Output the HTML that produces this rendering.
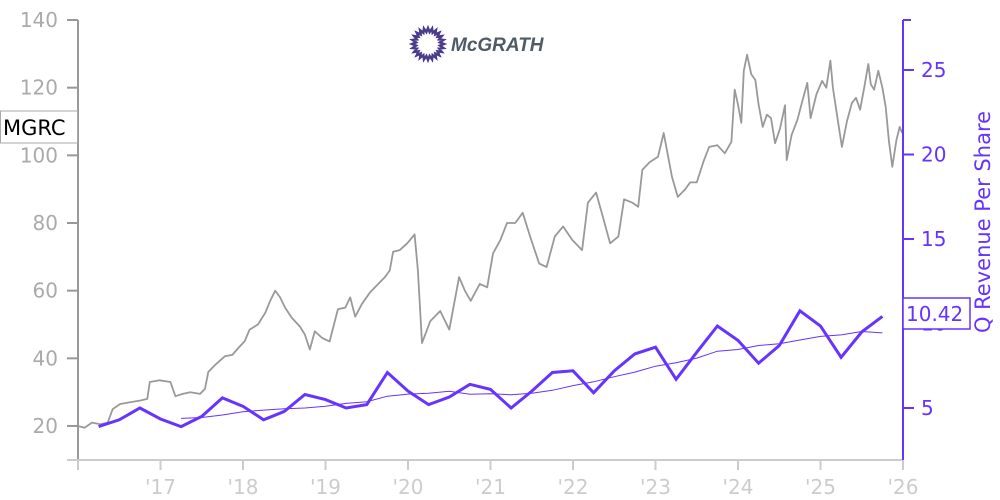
<!DOCTYPE html>
<html><head><meta charset="utf-8">
<style>
body{margin:0;background:#fff;}
svg{display:block;font-family:"DejaVu Sans","Liberation Sans",sans-serif;}
</style></head>
<body>
<svg id="chart" width="1000" height="500" viewBox="0 0 1000 500" xmlns="http://www.w3.org/2000/svg">
  <g id="logo"></g>
  <g id="price"></g>
  <g id="rev"></g>
  <g id="axes"></g>
</svg>
<script>
const priceDates=[2016.00,2016.08,2016.17,2016.27,2016.36,2016.42,2016.51,2016.63,2016.75,2016.84,2016.87,2016.99,2017.12,2017.18,2017.27,2017.36,2017.48,2017.54,2017.58,2017.66,2017.78,2017.87,2017.96,2018.02,2018.08,2018.18,2018.27,2018.33,2018.39,2018.45,2018.51,2018.59,2018.69,2018.75,2018.81,2018.87,2018.96,2019.05,2019.15,2019.24,2019.30,2019.36,2019.44,2019.54,2019.64,2019.72,2019.78,2019.82,2019.90,2019.99,2020.08,2020.12,2020.17,2020.27,2020.39,2020.50,2020.62,2020.69,2020.76,2020.87,2020.96,2021.03,2021.12,2021.20,2021.30,2021.39,2021.48,2021.59,2021.68,2021.78,2021.88,2021.99,2022.11,2022.18,2022.28,2022.36,2022.45,2022.55,2022.62,2022.72,2022.79,2022.84,2022.93,2023.03,2023.10,2023.15,2023.20,2023.27,2023.36,2023.42,2023.50,2023.58,2023.65,2023.75,2023.84,2023.92,2023.96,2024.00,2024.04,2024.07,2024.11,2024.16,2024.21,2024.25,2024.30,2024.35,2024.40,2024.45,2024.51,2024.57,2024.59,2024.65,2024.72,2024.78,2024.84,2024.88,2024.95,2025.02,2025.07,2025.12,2025.15,2025.19,2025.26,2025.32,2025.38,2025.43,2025.48,2025.53,2025.58,2025.61,2025.65,2025.70,2025.75,2025.79,2025.83,2025.87,2025.92,2025.96,2025.99];
const priceValues=[20,19.5,21,20.5,21,25,26.5,27,27.5,28,33,33.5,33,28.8,29.5,30,29.5,31,36,38,40.6,41,43.5,45,48.5,50,53.5,57,60,58,55,52,49.4,47,42.6,48,46,45,54.5,55,58,52.3,56,59.5,62,64,66,71.5,72,74,76.6,66,44.5,51,54,48.5,64,60,57,62,61,71,75,80,80,83,76,68,67,76,79,75,72,86,89,82,74,76,87,86,84.8,95.7,98,99.6,106.6,100,93.6,87.7,90,92,92,98,102.5,103,100.6,104,119.4,115,109.6,125,129.7,124,122.3,115,108.4,112,111,103.6,108,114.8,98.6,106,110.5,116,121.4,111,118,122,120,128,120,113.5,102.5,110,115.5,117,113.5,120,127,121,119.4,125,120,114.3,104,96.6,104.5,108.4,106.6];
const revDates=[2016.25,2016.5,2016.75,2017.0,2017.25,2017.5,2017.75,2018.0,2018.25,2018.5,2018.75,2019.0,2019.25,2019.5,2019.75,2020.0,2020.25,2020.5,2020.75,2021.0,2021.25,2021.5,2021.75,2022.0,2022.25,2022.5,2022.75,2023.0,2023.25,2023.5,2023.75,2024.0,2024.25,2024.5,2024.75,2025.0,2025.25,2025.5,2025.75];
const revValues=[3.9,4.3,5.0,4.35,3.9,4.5,5.6,5.1,4.3,4.8,5.8,5.5,5.0,5.2,7.1,6.0,5.2,5.65,6.4,6.1,5.0,6.0,7.1,7.2,5.9,7.2,8.2,8.6,6.7,8.3,9.85,9.0,7.65,8.7,10.75,9.85,8.0,9.5,10.42];
const leftTicks=[20,40,60,80,100,120,140];
const rightTicks=[5,15,20,25];
const xTickLabels=["'17","'18","'19","'20","'21","'22","'23","'24","'25","'26"];
const xTickYears=[2017,2018,2019,2020,2021,2022,2023,2024,2025,2026];

const NS="http://www.w3.org/2000/svg";
const X=t=>78+(t-2016)*82.5;
const YL=v=>20+(140-v)*(406/120);
const YR=v=>408-(v-5)*16.9;
function mk(tag,attrs,parent){const e=document.createElementNS(NS,tag);for(const k in attrs)e.setAttribute(k,attrs[k]);parent.appendChild(e);return e;}

// price
const pg=document.getElementById('price');
let d=priceDates.map((t,i)=>(i?'L':'M')+X(t).toFixed(1)+' '+YL(priceValues[i]).toFixed(1)).join(' ');
const pl=mk('path',{d:d,fill:'none',stroke:'#999','stroke-width':1.8,'stroke-linejoin':'round'},pg);



// revenue
const rg=document.getElementById('rev');
d=revDates.map((t,i)=>(i?'L':'M')+X(t).toFixed(1)+' '+YR(revValues[i]).toFixed(1)).join(' ');
const rl=mk('path',{d:d,fill:'none',stroke:'#6633ff','stroke-width':3,'stroke-linejoin':'miter'},rg);


let ap=[];
for(let i=4;i<revValues.length;i++){const a=(revValues[i-1]+revValues[i-2]+revValues[i-3]+revValues[i])/4;ap.push((ap.length?'L':'M')+X(revDates[i]).toFixed(1)+' '+YR(a).toFixed(1));}
const al=mk('path',{d:ap.join(' '),fill:'none',stroke:'#6633ff','stroke-width':1},rg);



// axes
const ag=document.getElementById('axes');
mk('line',{x1:78,y1:20,x2:78,y2:460,stroke:'#999','stroke-width':2},ag);
mk('line',{x1:67,y1:460,x2:903,y2:460,stroke:'#ccc','stroke-width':2},ag);
leftTicks.forEach(v=>{
  mk('line',{x1:67,y1:YL(v),x2:78,y2:YL(v),stroke:'#999','stroke-width':2},ag);
  const t=mk('text',{x:58,y:YL(v)+7,'text-anchor':'end','font-size':20,fill:'#aaa'},ag);
  t.textContent=v;
  
  
});
mk('line',{x1:X(2016),y1:460,x2:X(2016),y2:470,stroke:'#ccc','stroke-width':2},ag);
xTickYears.forEach((y,i)=>{
  mk('line',{x1:X(y),y1:460,x2:X(y),y2:470,stroke:'#ccc','stroke-width':2},ag);
  const t=mk('text',{x:X(y),y:494,'text-anchor':'middle','font-size':20,fill:'#ccc'},ag);
  t.textContent=xTickLabels[i];
  
  
});
mk('line',{x1:903,y1:20,x2:903,y2:460,stroke:'#6633ff','stroke-width':2},ag);
mk('line',{x1:903,y1:20,x2:911,y2:20,stroke:'#6633ff','stroke-width':2},ag);
[...rightTicks,10].forEach(v=>{
  mk('line',{x1:903,y1:YR(v),x2:914,y2:YR(v),stroke:'#6633ff','stroke-width':2},ag);
  const t=mk('text',{x:921,y:YR(v)+7,'font-size':20,fill:'#6633ff'},ag);
  t.textContent=v;
  
  
});
// value badge
const bb=mk('rect',{x:903,y:298,width:67,height:31,fill:'#fff',stroke:'#6633ff','stroke-width':1.5},ag);


const bt=mk('text',{x:906,y:321,'font-size':20,fill:'#6633ff'},ag);
bt.textContent=revValues[revValues.length-1].toFixed(2);


const yt=mk('text',{transform:'translate(990,222) rotate(-90)','text-anchor':'middle','font-size':21,fill:'#6633ff'},ag);
yt.textContent='Q Revenue Per Share';


// ticker box
const tb=mk('rect',{x:0.5,y:111,width:77,height:32,fill:'#fff',stroke:'#aaa','stroke-width':1},ag);


const tt=mk('text',{x:3,y:135,'font-size':21,fill:'#000'},ag);
tt.textContent='MGRC';



// logo
const lg=document.getElementById('logo');
let sp=[];
for(let i=0;i<48;i++){const a=i*Math.PI/24,r=(i%2)?12:16;sp.push((i?'L':'M')+(428+r*Math.cos(a)).toFixed(1)+' '+(44+r*Math.sin(a)).toFixed(1));}
mk('path',{d:sp.join(' ')+'Z',fill:'none',stroke:'#4b3b8c','stroke-width':2.4},lg);
const lt=mk('text',{x:451,y:51,'font-size':19,'font-weight':'bold','font-style':'italic',fill:'#4f5b66','font-family':'Liberation Sans, sans-serif'},lg);
lt.textContent='McGRATH';


</script>
</body></html>
